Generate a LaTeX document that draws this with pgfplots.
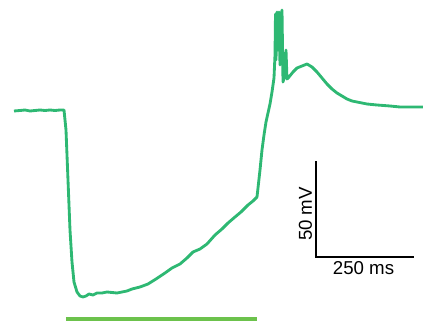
\documentclass[border=0pt]{standalone}
\usepackage{pgfplots}
\pgfplotsset{compat=1.18}
\usepackage{fontspec}
\setmainfont{Liberation Sans}
\definecolor{trace}{HTML}{2EB873}
\definecolor{stim}{HTML}{6CC24C}
\begin{document}
\begin{tikzpicture}
\begin{axis}[
  scale only axis, width=10cm, height=7.553cm,
  xmin=0, xmax=425, ymin=0, ymax=321, y dir=reverse,
  hide axis, clip=false,
]
\coordinate (ll) at (rel axis cs:0,0);
\coordinate (ur) at (rel axis cs:1,1);
% stimulus bar
\addplot[stim, line width=3.3pt] coordinates {(66,319.5) (257,319.5)};
% trace
\addplot[trace, line width=1.9pt, line join=round] coordinates {
(14,111)(20,110.5)(25,110)(30,111)(35,110.5)(40,110)(45,110.5)(50,110)(55,110.5)(60,110)(64,110)
(66,130)(68,180)(70,230)(72,262)(74,282)(77,292)(80,296)(83,297)(86,296)(89,294)(93,295)(97,293)
(102,293)(107,292)(112,292.5)(117,293)(122,292)(127,291)(132,289)(140,287)(148,284)(156,279)
(165,273)(172,268)(180,264)(187,258)(193,252)(200,249)(207,244)(215,235)(222,229)(228,223)
(235,217)(241,212)(248,205)(253,201)(257,197)(258,188)(260,170)(262,150)(264,135)(266,122)
(268,113)(270,104)(272,92)(274,78)(275,55)(275.5,14)(276,60)(277,12)(278,50)(279,12)(280,65)
(281,20)(282,10)(283,82)(284,78)(285,75)(286,50)(287,79)(289,77)(293,72)(297,68)(302,66)
(307,64)(312,67)(317,72)(322,78)(327,84)(332,89)(337,93)(342,96)(347,99)(352,101)(357,102)
(367,104)(377,105)(390,106)(400,107)(412,107)(423,107)
};
% scale bar
\addplot[black, line width=2pt, line cap=rect] coordinates {(316,162) (316,257) (413,257)};
\node[font=\fontsize{12.5}{14}\selectfont, inner sep=0pt] at (axis cs:363.5,268) {250 ms};
\node[font=\fontsize{12.5}{14}\selectfont, rotate=90, inner sep=0pt] at (axis cs:305.5,214) {50 mV};
\end{axis}
\pgfresetboundingbox
\path[use as bounding box] (ll) rectangle (ur);
\end{tikzpicture}
\end{document}
